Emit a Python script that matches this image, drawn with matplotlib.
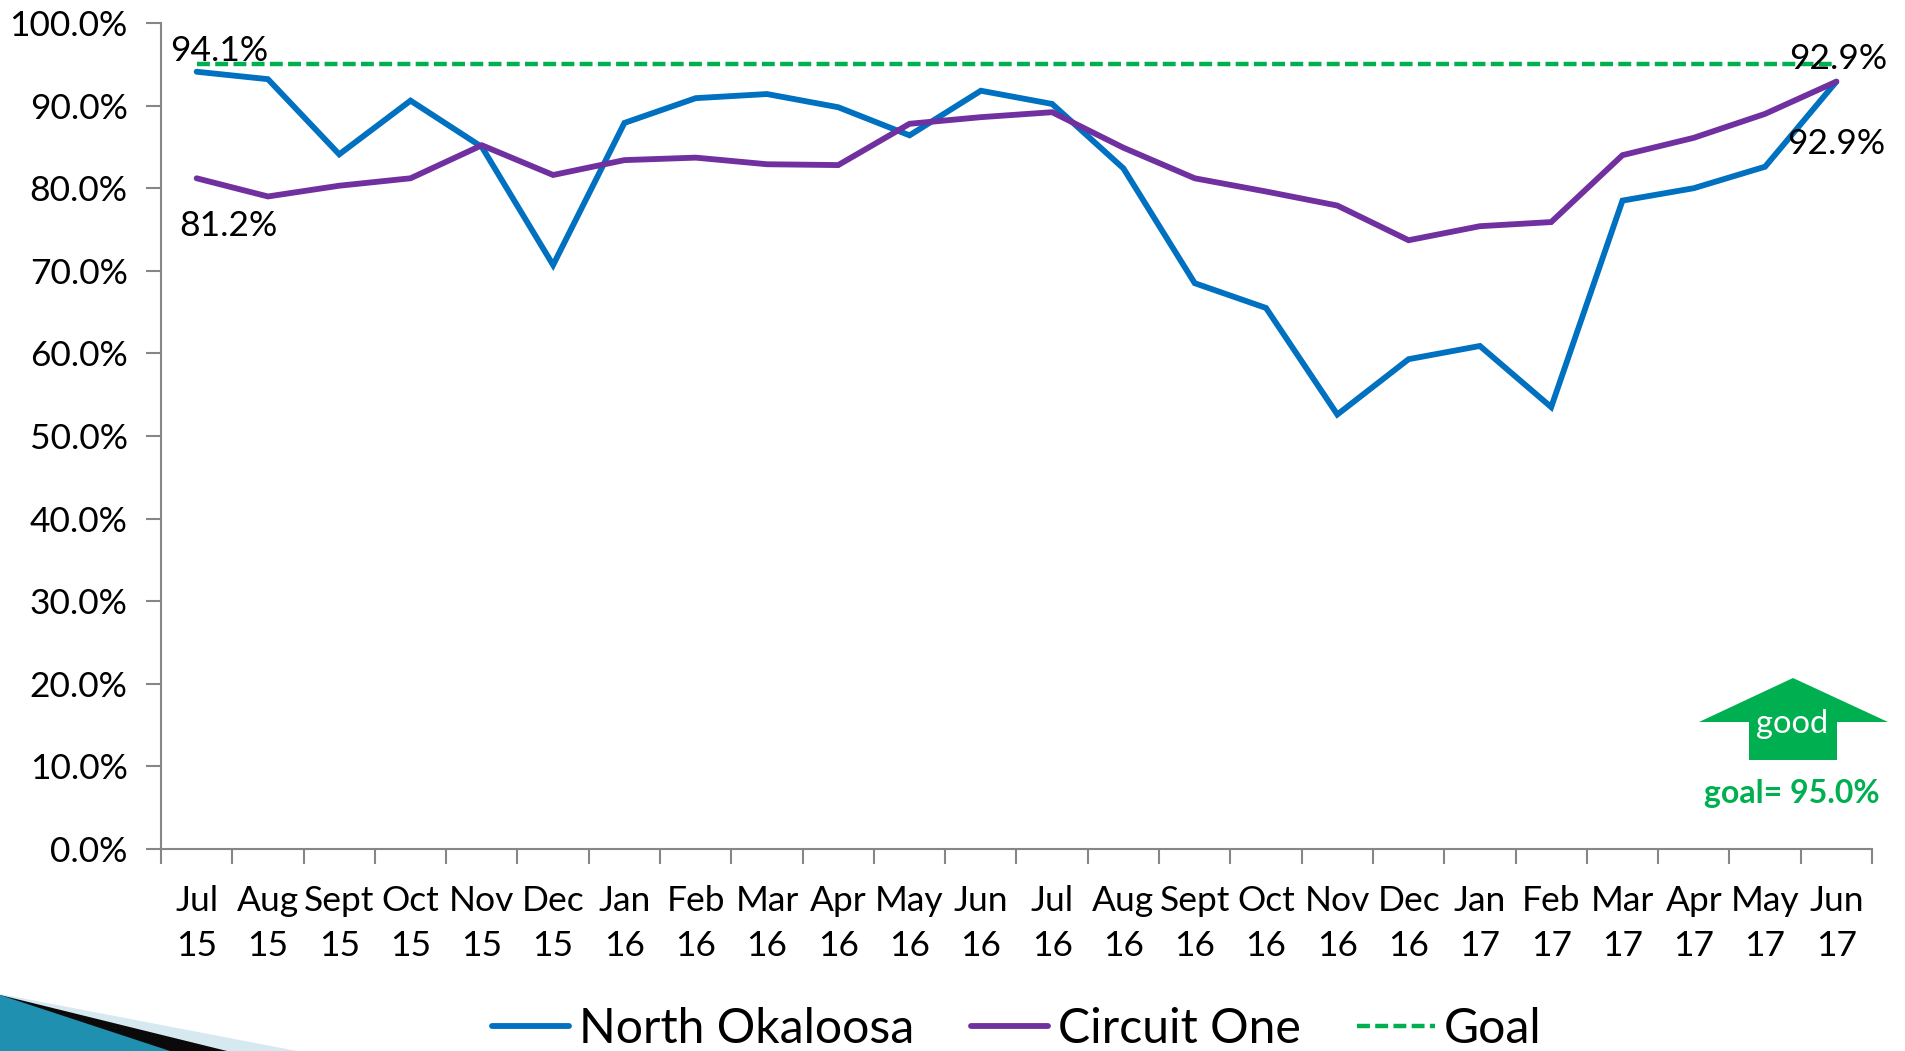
#!/usr/bin/env python3
"""
North Okaloosa vs Circuit One, monthly rate against the goal
"""

import matplotlib
matplotlib.use('Agg')
import matplotlib.pyplot as plt
from matplotlib.patches import Polygon

W, H = 1905, 1051

months = ['Jul', 'Aug', 'Sept', 'Oct', 'Nov', 'Dec', 'Jan', 'Feb', 'Mar', 'Apr', 'May', 'Jun',
          'Jul', 'Aug', 'Sept', 'Oct', 'Nov', 'Dec', 'Jan', 'Feb', 'Mar', 'Apr', 'May', 'Jun']
years = ['15', '15', '15', '15', '15', '15', '16', '16', '16', '16', '16', '16',
         '16', '16', '16', '16', '16', '16', '17', '17', '17', '17', '17', '17']
north_okaloosa = [94.1, 93.2, 84.1, 90.6, 85.0, 70.7, 87.9, 90.9, 91.4, 89.8, 86.4, 91.8,
                  90.2, 82.4, 68.5, 65.5, 52.6, 59.3, 60.9, 53.5, 78.5, 80.0, 82.6, 92.9]
circuit_one = [81.2, 79.0, 80.3, 81.2, 85.2, 81.6, 83.4, 83.7, 82.9, 82.8, 87.8, 88.6,
               89.2, 84.9, 81.2, 79.6, 77.9, 73.7, 75.4, 75.9, 84.0, 86.1, 89.0, 92.9]
goal = [95.0] * 24
yticks = [0, 10, 20, 30, 40, 50, 60, 70, 80, 90, 100]

BLUE = '#0070c0'
PURPLE = '#7030a0'
GREEN = '#00b050'
GRAY = '#868686'

plt.rcParams['font.family'] = ['Lato', 'DejaVu Sans']

fig = plt.figure(figsize=(W / 100, H / 100), dpi=100)
ax = fig.add_axes([161 / W, 1 - 849 / H, (1872 - 161) / W, (849 - 23) / H])

x = list(range(24))
ax.plot(x, north_okaloosa, color=BLUE, lw=4.2, solid_joinstyle='miter', solid_capstyle='round',
        label='North Okaloosa')
ax.plot(x, circuit_one, color=PURPLE, lw=4.2, solid_joinstyle='miter', solid_capstyle='round',
        label='Circuit One')
ax.plot(x, goal, color=GREEN, lw=3.2, ls=(0, (2.9, 1.2)), label='Goal')

ax.set_xlim(-0.5, 23.5)
ax.set_ylim(0, 100)
ax.set_yticks(yticks)
ax.set_yticklabels([f'{v:.1f}%' for v in yticks], fontsize=25.5)
ax.set_xticks([i - 0.5 for i in range(25)])
ax.set_xticklabels([])
for i in x:
    ax.text(i, -6.35, months[i], ha='center', va='center', fontsize=25.5, clip_on=False)
    ax.text(i, -11.75, years[i], ha='center', va='center', fontsize=25.5, clip_on=False)

for s in ['top', 'right']:
    ax.spines[s].set_visible(False)
for s in ['left', 'bottom']:
    ax.spines[s].set_color(GRAY)
    ax.spines[s].set_linewidth(1.5)
ax.tick_params(axis='y', color=GRAY, width=1.5, length=11, pad=13)
ax.tick_params(axis='x', color=GRAY, width=1.5, length=11, direction='out')

# data labels at both ends
ax.text(0.32, north_okaloosa[0] + 2.55, '94.1%', ha='center', va='center', fontsize=25.5)
ax.text(0.45, circuit_one[0] - 5.75, '81.2%', ha='center', va='center', fontsize=25.5)
ax.text(23.02, 95.6, '92.9%', ha='center', va='center', fontsize=25.5)
ax.text(23.0, 85.35, '92.9%', ha='center', va='center', fontsize=25.5)

# "good" arrow
arrow = [(1699, 722), (1793, 678), (1888, 722), (1837, 722), (1837, 760), (1749, 760), (1749, 722)]
fig.add_artist(Polygon([(a / W, 1 - b / H) for a, b in arrow], closed=True,
                       color=GREEN, lw=0, transform=fig.transFigure))
fig.text(1792 / W, 1 - 724 / H, 'good', color='white', ha='center', va='center', fontsize=23.5)
fig.text(1792 / W, 1 - 793 / H, 'goal= 95.0%', color=GREEN, ha='center', va='center',
         fontsize=23, fontweight='bold')

# legend row
handles, labels = ax.get_legend_handles_labels()
fig.legend(handles, labels, loc='center', bbox_to_anchor=(1017 / W, 1 - 1029 / H), ncol=3,
           frameon=False, fontsize=34.7, handlelength=1.6, handletextpad=0.2,
           columnspacing=1.18, borderpad=0)

# slide decoration in the corner
fig.add_artist(Polygon([(0, 0), (297 / W, 0), (0, 57 / H)], closed=True, color='#d6e8f0',
                       lw=0, transform=fig.transFigure))
fig.add_artist(Polygon([(0, 0), (227 / W, 0), (0, 56 / H)], closed=True, color='#0a0a0a',
                       lw=0, transform=fig.transFigure))
fig.add_artist(Polygon([(0, 0), (170 / W, 0), (0, 56 / H)], closed=True, color='#1f90b0',
                       lw=0, transform=fig.transFigure))

fig.savefig('out.png', dpi=100)
